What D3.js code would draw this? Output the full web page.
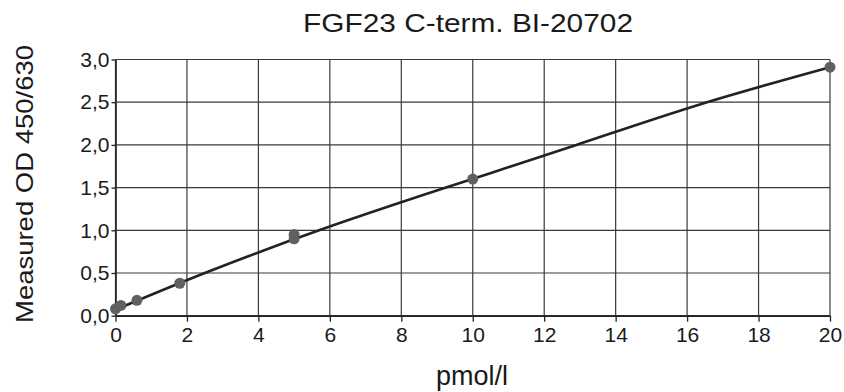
<!DOCTYPE html>
<html>
<head>
<meta charset="utf-8">
<script src="https://cdn.jsdelivr.net/npm/d3@7"></script>
<style>
  body { margin: 0; background: #fff; }
  text { font-family: "Liberation Sans", Arial, sans-serif; fill: #1a1a1a; }
</style>
</head>
<body>
<div class="chart"></div>
<script>
// measured standards (pmol/l vs OD)
const stdConc = [0, 0.15, 0.6, 1.8, 5, 5, 10, 20];
const stdOD = [0.08, 0.12, 0.18, 0.38, 0.90, 0.95, 1.60, 2.91];

// fitted curve
const fitConc = [0, 2.5, 5.7, 9.25, 12.9, 16.4, 20];
const fitOD = [0.07, 0.50, 1.00, 1.50, 2.00, 2.48, 2.91];

const xTicks = [0, 2, 4, 6, 8, 10, 12, 14, 16, 18, 20];
const yTicks = [0, 0.5, 1, 1.5, 2, 2.5, 3];

const W = 844, H = 392;
const plotL = 115.5, plotR = 830, plotT = 59.5, plotB = 315.7;

const svg = d3.select(".chart").append("svg")
  .attr("width", W)
  .attr("height", H);

const x = d3.scaleLinear().domain([0, 20]).range([plotL, plotR]);
const y = d3.scaleLinear().domain([0, 3]).range([plotB, plotT]);

// grid
svg.append("g")
  .selectAll("line")
  .data(xTicks)
  .join("line")
  .attr("x1", d => x(d)).attr("x2", d => x(d))
  .attr("y1", plotT).attr("y2", plotB)
  .attr("stroke", "#3a3a3a").attr("stroke-width", 1.2);

svg.append("g")
  .selectAll("line")
  .data(yTicks)
  .join("line")
  .attr("x1", plotL).attr("x2", plotR)
  .attr("y1", d => y(d)).attr("y2", d => y(d))
  .attr("stroke", "#3a3a3a").attr("stroke-width", 1.2);

const fmt = d => d3.format(".1f")(d).replace(".", ",");

const xAxis = svg.append("g")
  .attr("transform", `translate(0,${plotB})`)
  .call(d3.axisBottom(x).tickValues(xTicks).tickSize(6).tickPadding(5).tickSizeOuter(0));

const yAxis = svg.append("g")
  .attr("transform", `translate(${plotL},0)`)
  .call(d3.axisLeft(y).tickValues(yTicks).tickFormat(fmt).tickSize(4).tickPadding(2).tickSizeOuter(0));

[xAxis, yAxis].forEach(a => {
  a.select(".domain").attr("stroke", "#222").attr("stroke-width", 1.6);
  a.selectAll(".tick line").attr("stroke", "#222").attr("stroke-width", 1.3);
  a.selectAll(".tick text")
    .style("font-family", '"Liberation Sans", Arial, sans-serif')
    .style("font-size", "21px")
    .attr("fill", "#1a1a1a");
});

// fitted line
const fit = fitConc.map((c, i) => [c, fitOD[i]]);
svg.append("path")
  .datum(fit)
  .attr("fill", "none")
  .attr("stroke", "#222")
  .attr("stroke-width", 2.6)
  .attr("d", d3.line().x(d => x(d[0])).y(d => y(d[1])).curve(d3.curveNatural));

// points
svg.append("g")
  .selectAll("circle")
  .data(stdConc.map((c, i) => [c, stdOD[i]]))
  .join("circle")
  .attr("cx", d => x(d[0]))
  .attr("cy", d => y(d[1]))
  .attr("r", 5.5)
  .attr("fill", "#606060");

// titles
svg.append("text")
  .attr("x", 468).attr("y", 32)
  .attr("text-anchor", "middle")
  .style("font-size", "26px")
  .attr("textLength", 330).attr("lengthAdjust", "spacingAndGlyphs")
  .text("FGF23 C-term. BI-20702");

svg.append("text")
  .attr("transform", "translate(33,184) rotate(-90)")
  .attr("text-anchor", "middle")
  .style("font-size", "24px")
  .attr("textLength", 278).attr("lengthAdjust", "spacingAndGlyphs")
  .text("Measured OD 450/630");

svg.append("text")
  .attr("x", 472).attr("y", 385)
  .attr("text-anchor", "middle")
  .style("font-size", "27px")
  .text("pmol/l");
</script>
</body>
</html>
